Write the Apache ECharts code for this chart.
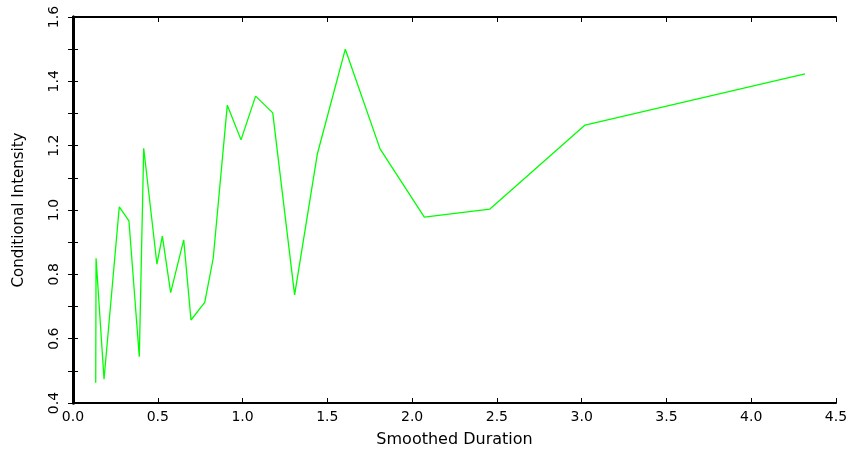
<!DOCTYPE html>
<html>
<head>
<meta charset="utf-8" />
<title>Conditional Intensity</title>
<style>
	*{ margin: 0; padding: 0; }
	body{ background: #fff; }
	#chart_show{ width: 854px; height: 455px; }
</style>
<script src="https://cdn.jsdelivr.net/npm/echarts@6/dist/echarts.min.js"></script>
</head>
<body>
<div id="chart_show"></div>
<script>
// smoothed duration (x) and conditional intensity (y)
var duration = [0.134, 0.136, 0.183, 0.273, 0.330, 0.391, 0.417, 0.495, 0.527, 0.576,
                0.653, 0.696, 0.777, 0.827, 0.910, 0.991, 1.077, 1.178, 1.307, 1.441,
                1.606, 1.811, 2.072, 2.459, 3.020, 4.317];
var intensity = [0.463, 0.850, 0.474, 1.010, 0.966, 0.544, 1.192, 0.832, 0.919, 0.743,
                 0.907, 0.658, 0.713, 0.850, 1.326, 1.218, 1.354, 1.302, 0.736, 1.174,
                 1.500, 1.190, 0.978, 1.003, 1.264, 1.423];

var points = [];
for (var i = 0; i < duration.length; i++) {
	points.push([duration[i], intensity[i]]);
}

var font = 'DejaVu Sans';
var oChart = echarts.init(document.getElementById('chart_show'));
var chartopt = {
	backgroundColor: '#ffffff',
	animation: false,
	grid: { left: 73, right: 18, top: 17, bottom: 52 },
	xAxis: [
		{
			type: 'value', position: 'bottom',
			min: 0, max: 4.5, interval: 0.5,
			name: 'Smoothed Duration', nameLocation: 'middle', nameGap: 29,
			nameTextStyle: { color: '#000', fontSize: 16, fontFamily: font },
			axisLine: { lineStyle: { color: '#000', width: 2 } },
			axisTick: { inside: true, length: 5, lineStyle: { color: '#000' } },
			axisLabel: { color: '#000', fontSize: 14, fontFamily: font, margin: 7,
				formatter: function (v) { return v.toFixed(1); } },
			splitLine: { show: false }
		},
		{
			type: 'value', position: 'top',
			min: 0, max: 4.5, interval: 0.5,
			axisLine: { lineStyle: { color: '#000', width: 2 } },
			axisTick: { inside: true, length: 5, lineStyle: { color: '#000' } },
			axisLabel: { show: false },
			splitLine: { show: false }
		}
	],
	yAxis: [
		{
			type: 'value', position: 'left',
			min: 0.4, max: 1.6, interval: 0.1,
			name: 'Conditional Intensity', nameLocation: 'middle', nameGap: 46,
			nameTextStyle: { color: '#000', fontSize: 15, fontFamily: font },
			axisLine: { lineStyle: { color: '#000', width: 3 } },
			axisTick: { inside: true, length: 5, lineStyle: { color: '#000' } },
			axisLabel: { color: '#000', fontSize: 14, fontFamily: font, rotate: 90, margin: 12,
				formatter: function (v) {
					return Math.round(v * 10) % 2 === 0 ? v.toFixed(1) : '';
				} },
			splitLine: { show: false }
		},
		{
			type: 'value', position: 'right',
			min: 0.4, max: 1.6, interval: 0.1,
			axisLine: { lineStyle: { color: '#000', width: 3 } },
			axisTick: { inside: true, length: 5, lineStyle: { color: '#000' } },
			axisLabel: { show: false },
			splitLine: { show: false }
		}
	],
	series: [
		{
			name: 'intensity',
			type: 'line',
			xAxisIndex: 0, yAxisIndex: 0,
			showSymbol: false,
			lineStyle: { color: '#00ff00', width: 1.3 },
			data: points
		}
	]
};
oChart.setOption(chartopt);
</script>
</body>
</html>
